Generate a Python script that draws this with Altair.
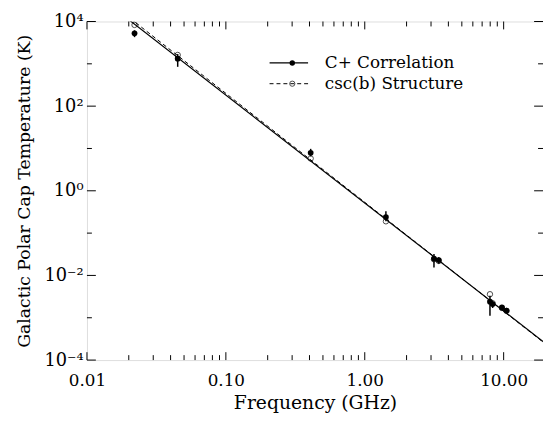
import altair as alt
import pandas as pd

# ---- data ----
freq_cplus = [0.022, 0.045, 0.408, 1.42, 3.15, 3.41, 7.97, 8.33, 9.72, 10.49]
temp_cplus = [5250, 1320, 7.9, 0.24, 0.025, 0.023, 0.0024, 0.0021, 0.00175, 0.00148]
err_lo_cplus = [4270, 850, 6.5, 0.19, 0.0155, 0.019, 0.00112, 0.0017, 0.0015, 0.0013]
err_hi_cplus = [6200, 1700, 9.8, 0.33, 0.032, 0.027, 0.0033, 0.0025, 0.002, 0.0017]

freq_csc = [0.022, 0.045, 0.408, 1.42, 3.15, 3.41, 7.97, 8.33, 9.72, 10.49]
temp_csc = [8300, 1620, 5.8, 0.19, 0.024, 0.022, 0.0036, 0.0022, 0.0017, 0.00145]

line_freq = [0.01, 20.0]
line_cplus = [64600, 0.000247]
line_csc = [75000, 0.000240]

x_major = [0.01, 0.1, 1, 10]
x_minor = [0.02, 0.03, 0.04, 0.05, 0.06, 0.07, 0.08, 0.09,
           0.2, 0.3, 0.4, 0.5, 0.6, 0.7, 0.8, 0.9,
           2, 3, 4, 5, 6, 7, 8, 9]
y_major = [1e-4, 1e-2, 1, 1e2, 1e4]
y_minor = [1e-3, 1e-1, 10, 1e3]

legend_labels = ["C+ Correlation", "csc(b) Structure"]

W, H = 462, 343
FONT = "DejaVu Serif"

xs = alt.Scale(type="log", domain=[0.01, 19.2], nice=False)
ys = alt.Scale(type="log", domain=[1e-4, 1e4], nice=False)

xaxis = alt.Axis(values=x_major, labelExpr="format(datum.value, '.2f')", ticks=False,
                 domain=False, grid=False, labelFont=FONT, labelFontSize=17,
                 labelColor="black", labelPadding=13, title="Frequency (GHz)",
                 titleFont=FONT, titleFontSize=19, titleFontWeight="normal",
                 titleColor="black", titlePadding=5, labelFlush=False)
yaxis = alt.Axis(values=y_major,
                 labelExpr="datum.value == 10000 ? '10\u2074' : datum.value == 100 ? '10\u00b2' : datum.value == 1 ? '10\u2070' : datum.value == 0.01 ? '10\u207b\u00b2' : '10\u207b\u2074'",
                 ticks=False, domain=False, grid=False, labelFont=FONT, labelFontSize=18,
                 labelColor="black", labelPadding=4,
                 title="Galactic Polar Cap Temperature (K)", titleFont=FONT,
                 titleFontSize=17.5, titleFontWeight="normal", titleColor="black",
                 titlePadding=11, labelFlush=False)

def X(field="f"):
    return alt.X(f"{field}:Q", scale=xs, axis=xaxis)

def Y(field="T"):
    return alt.Y(f"{field}:Q", scale=ys, axis=yaxis)

df_c = pd.DataFrame({"f": freq_cplus, "T": temp_cplus, "lo": err_lo_cplus, "hi": err_hi_cplus})
df_s = pd.DataFrame({"f": freq_csc, "T": temp_csc})
df_lc = pd.DataFrame({"f": line_freq, "T": line_cplus})
df_ls = pd.DataFrame({"f": line_freq, "T": line_csc})

line_c = alt.Chart(df_lc).mark_line(color="black", strokeWidth=1.2, clip=True).encode(x=X(), y=Y())
line_s = alt.Chart(df_ls).mark_line(color="black", strokeWidth=1, strokeDash=[4, 3], clip=True).encode(x=X(), y=Y())
err = alt.Chart(df_c).mark_rule(color="black", strokeWidth=1.5).encode(x=X(), y=Y("lo"), y2="hi:Q")
pts_s = alt.Chart(df_s).mark_point(shape="circle", filled=False, color="black", size=30, strokeWidth=1).encode(x=X(), y=Y())
pts_c = alt.Chart(df_c).mark_point(shape="circle", filled=True, color="black", size=34, opacity=1).encode(x=X(), y=Y())

# inward ticks
dxM = pd.DataFrame({"f": x_major})
dxm = pd.DataFrame({"f": x_minor})
dyM = pd.DataFrame({"T": y_major})
dym = pd.DataFrame({"T": y_minor})
tick_layers = []
for d, L in [(dxM, 8), (dxm, 5)]:
    tick_layers.append(alt.Chart(d).mark_rule(color="black", strokeWidth=1).encode(x=X(), y=alt.value(H), y2=alt.value(H - L)))
    tick_layers.append(alt.Chart(d).mark_rule(color="black", strokeWidth=1).encode(x=X(), y=alt.value(0), y2=alt.value(L)))
for d, L in [(dyM, 9), (dym, 5)]:
    tick_layers.append(alt.Chart(d).mark_rule(color="black", strokeWidth=1).encode(y=Y(), x=alt.value(0), x2=alt.value(L)))
    tick_layers.append(alt.Chart(d).mark_rule(color="black", strokeWidth=1).encode(y=Y(), x=alt.value(W), x2=alt.value(W - L)))

# legend
one = pd.DataFrame({"a": [0]})
lx0, lx1, ldot, ltx = 185, 224, 208, 241
ly1, ly2 = 42, 63
leg = [
    alt.Chart(one).mark_rule(color="black", strokeWidth=1.2).encode(x=alt.value(lx0), x2=alt.value(lx1), y=alt.value(ly1)),
    alt.Chart(one).mark_point(shape="circle", filled=True, color="black", size=30, opacity=1).encode(x=alt.value(ldot), y=alt.value(ly1)),
    alt.Chart(one).mark_rule(color="black", strokeWidth=1, strokeDash=[4, 3]).encode(x=alt.value(lx0), x2=alt.value(lx1), y=alt.value(ly2)),
    alt.Chart(one).mark_point(shape="circle", filled=False, color="black", size=28, strokeWidth=1).encode(x=alt.value(ldot), y=alt.value(ly2)),
    alt.Chart(pd.DataFrame({"t": [legend_labels[0]]})).mark_text(font=FONT, fontSize=17, align="left", baseline="middle", color="black").encode(x=alt.value(ltx), y=alt.value(ly1), text="t:N"),
    alt.Chart(pd.DataFrame({"t": [legend_labels[1]]})).mark_text(font=FONT, fontSize=17, align="left", baseline="middle", color="black").encode(x=alt.value(ltx), y=alt.value(ly2), text="t:N"),
]

chart = alt.layer(line_s, line_c, err, pts_s, pts_c, *tick_layers, *leg).properties(
    width=W, height=H,
    autosize=alt.AutoSizeParams(type="none"),
    padding={"left": 80, "top": 11, "right": 0, "bottom": 56},
).configure_view(stroke="black", strokeWidth=1.5).configure(background="white")

chart.save("out.html", embed_options={"renderer": "svg", "actions": False})
